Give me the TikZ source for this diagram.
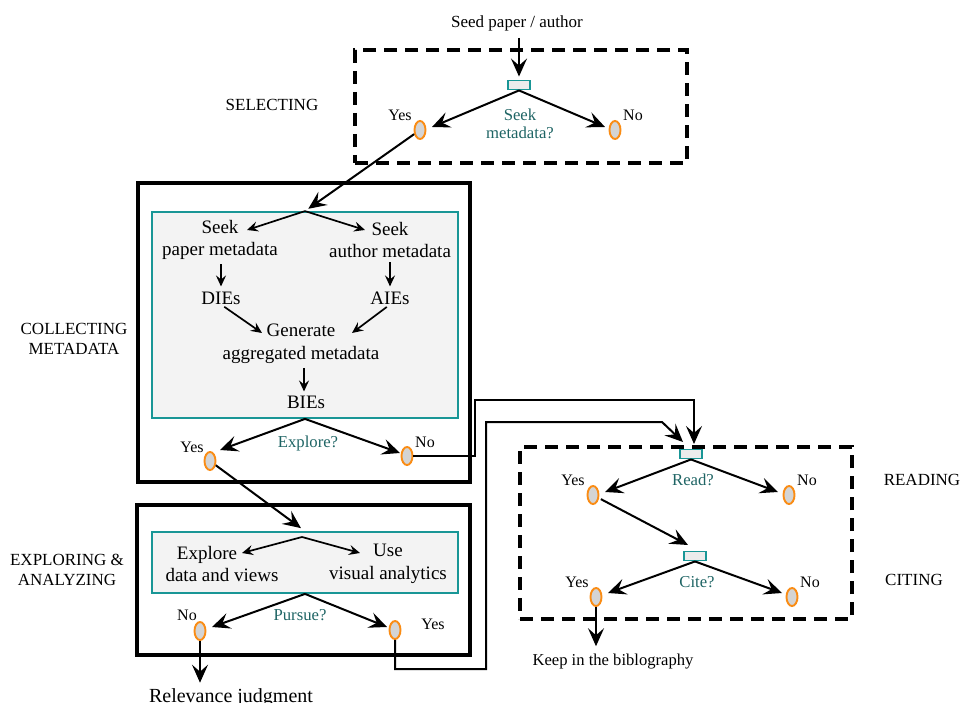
\documentclass[tikz,border=0pt]{standalone}
\usepackage{fontspec}
\setmainfont{Liberation Serif}
\usetikzlibrary{arrows.meta,shapes.geometric}
\definecolor{tealline}{RGB}{25,150,150}
\definecolor{tealtext}{RGB}{30,100,100}
\definecolor{ovalorange}{RGB}{250,140,20}
\definecolor{ovalfill}{RGB}{212,212,212}
\definecolor{panelfill}{RGB}{243,243,243}
\definecolor{choicefill}{RGB}{236,236,236}

\begin{document}
\begin{tikzpicture}[x=1pt,y=-1pt,
  arr/.style={line width=2pt, -{Stealth[length=18pt,width=16pt,inset=7pt]}},
  sarr/.style={line width=1.7pt, -{Stealth[length=11pt,width=10pt,inset=4pt]}},
  dashbox/.style={draw, line width=3.2pt, dash pattern=on 13pt off 8pt, inner sep=0pt},
  solidbox/.style={draw, line width=3.3pt, inner sep=0pt},
  panel/.style={draw=tealline, fill=panelfill, line width=1.8pt, inner sep=0pt},
  choice/.style={draw=tealline, fill=choicefill, line width=1.9pt, minimum width=22pt, minimum height=9pt, inner sep=0pt},
  oval/.style={ellipse, draw=ovalorange, fill=ovalfill, line width=1.9pt, minimum width=11pt, minimum height=18pt, inner sep=0pt},
  lbl/.style={font=\fontsize{16}{17}\selectfont, inner sep=0pt},
  q/.style={font=\fontsize{16.7}{18}\selectfont, text=tealtext, align=center, inner sep=0pt},
  stage/.style={font=\fontsize{17}{19.5}\selectfont, align=center, inner sep=0pt},
  task/.style={font=\fontsize{19}{22.5}\selectfont, align=center, inner sep=0pt},
  note/.style={font=\fontsize{17}{19}\selectfont, inner sep=0pt},
]
\useasboundingbox (0,0) rectangle (961,703);

% ---------- frames ----------
\node[dashbox, minimum width=332pt, minimum height=113pt] (selbox) at (521,106.5) {};
\node[solidbox, minimum width=332pt, minimum height=299pt] (colbox) at (304,332.5) {};
\node[panel, minimum width=306pt, minimum height=206pt] (colin) at (305,315) {};
\node[solidbox, minimum width=333pt, minimum height=150pt] (expbox) at (303.5,580) {};
\node[panel, minimum width=306pt, minimum height=61pt] (expin) at (305,562.5) {};
\node[dashbox, minimum width=332pt, minimum height=172pt] (readbox) at (686,533) {};

% ---------- stage names ----------
\node[stage] at (272,105) {SELECTING};
\node[stage] at (74,339) {COLLECTING\\METADATA};
\node[stage] at (67,570) {EXPLORING \&\\ANALYZING};
\node[stage] at (922,480) {READING};
\node[stage] at (914,580) {CITING};

% ---------- selecting ----------
\node[note] (seed) at (517,23) {Seed paper / author};
\node[choice] (d1) at (519,85) {};
\node[oval] (y1) at (420,130) {};
\node[oval] (n1) at (615,130) {};
\node[lbl] at (400,115) {Yes};
\node[lbl] at (633,115) {No};
\node[q] at (520,124) {Seek\\metadata?};
\coordinate (y1tip) at (432,127);
\coordinate (n1tip) at (605,127);
\draw[arr, shorten <=7pt, shorten >=3pt] (seed.south -| d1.north) -- (d1.north);
\draw[arr] (d1.south) -- (y1tip);
\draw[arr] (d1.south) -- (n1tip);
\draw[arr, shorten >=4pt] (y1) -- (colin.north);

% ---------- collecting metadata ----------
\node[task] (seekp) at (220,240) {Seek\\paper metadata};
\node[task] (seeka) at (390,240) {Seek\\author metadata};
\node[task] (dies) at (221,298) {DIEs};
\node[task] (aies) at (390,298) {AIEs};
\node[task] (gen) at (301,344) {Generate\\aggregated metadata};
\node[task] (bies) at (306,402) {BIEs};
\coordinate (seekptip) at (247,230);
\coordinate (seekatip) at (365,230);
\coordinate (gentip1) at (262,333);
\coordinate (gentip2) at (352,333);
\draw[sarr] (colin.north) -- (seekptip);
\draw[sarr] (colin.north) -- (seekatip);
\draw[sarr, shorten <=4pt, shorten >=5pt] (seekp.south -| dies.north) -- (dies.north);
\draw[sarr, shorten <=4pt, shorten >=5pt] (seeka.south -| aies.north) -- (aies.north);
\draw[sarr, shorten <=4pt] (dies.south) -- (gentip1);
\draw[sarr, shorten <=4pt] (aies.south) -- (gentip2);
\draw[sarr, shorten <=4pt, shorten >=4pt] ([xshift=3pt]gen.south) -- ([xshift=-2pt]bies.north);

\node[oval] (y2) at (210,461) {};
\node[oval] (n2) at (407,456) {};
\node[lbl] at (192,447) {Yes};
\node[lbl] at (425,442) {No};
\node[q] at (308,443) {Explore?};
\coordinate (y2tip) at (220,450);
\coordinate (n2tip) at (400,453);
\draw[arr] (colin.south) -- (y2tip);
\draw[arr] (colin.south) -- (n2tip);

% ---------- exploring & analyzing ----------
\node[task] (explore) at (222,564) {Explore\hspace*{30pt}\\data and views};
\node[task] (usevis) at (388,564) {Use\\visual analytics};
\coordinate (ebranch) at (302,537);
\coordinate (exptip) at (242,553);
\coordinate (usetip) at (360,553);
\draw[arr, shorten >=5pt] (y2) -- (expin.north);
\draw[sarr] (ebranch) -- (exptip);
\draw[sarr] (ebranch) -- (usetip);

\node[oval] (n3) at (200,631) {};
\node[oval] (y3) at (395,630) {};
\node[lbl] at (187,615) {No};
\node[lbl] at (433,624) {Yes};
\node[q] at (300,615) {Pursue?};
\coordinate (n3tip) at (212,627);
\coordinate (y3tip) at (387,627);
\draw[arr] (expin.south) -- (n3tip);
\draw[arr] (expin.south) -- (y3tip);

\node[font=\fontsize{20}{22}\selectfont, inner sep=0pt] (relev) at (231,698) {Relevance judgment};
\draw[arr, shorten >=6pt] (n3.south) -- (n3.south |- relev.north);

% ---------- reading & citing ----------
\node[choice] (d3) at (691,454) {};
\node[oval] (y4) at (593,495) {};
\node[oval] (n4) at (789,495) {};
\node[lbl] at (573,480) {Yes};
\node[lbl] at (807,480) {No};
\node[q] at (693,480) {Read?};
\coordinate (y4tip) at (605,492);
\coordinate (n4tip) at (778,492);
\draw[arr] (d3.south) -- (y4tip);
\draw[arr] (d3.south) -- (n4tip);

\node[choice] (d4) at (695,556) {};
\coordinate (d4tip) at (688,545);
\draw[arr, shorten <=2pt] (y4) -- (d4tip);

\node[oval] (y5) at (596,597) {};
\node[oval] (n5) at (792,597) {};
\node[lbl] at (577,582) {Yes};
\node[lbl] at (810,582) {No};
\node[q] at (697,582) {Cite?};
\coordinate (y5tip) at (608,593);
\coordinate (n5tip) at (782,593);
\draw[arr] (d4.south) -- (y5tip);
\draw[arr] (d4.south) -- (n5tip);

\node[font=\fontsize{16.6}{18}\selectfont, inner sep=0pt] (keep) at (613,662) {Keep in the biblography};
\draw[arr, shorten >=8pt] (y5.south) -- (y5.south |- keep.north);

% ---------- routes into reading ----------
\coordinate (bendA) at (475,400);
\coordinate (readtipA) at (694,444);
\draw[arr] (n2.east) -| (bendA) -| (readtipA);

\coordinate (bendB) at (486,669);
\coordinate (bendC) at (662,422);
\coordinate (readtipB) at (683,442);
\draw[arr] (y3.south) |- (bendB) |- (bendC) -- (readtipB);
\end{tikzpicture}
\end{document}
